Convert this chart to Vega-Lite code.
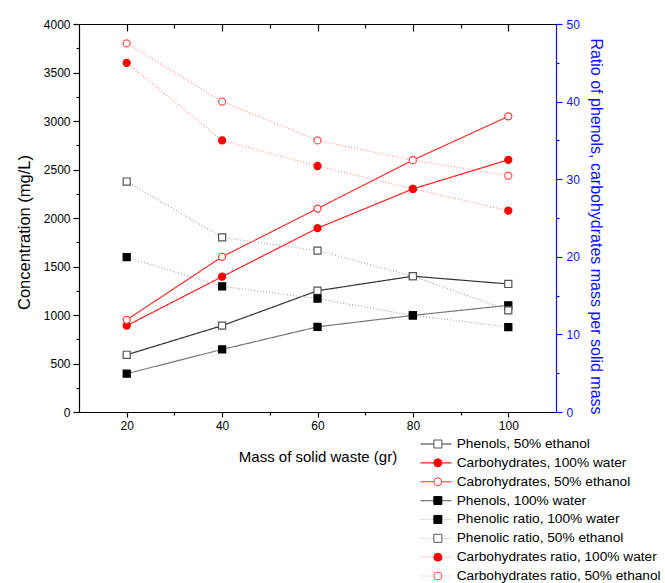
{
  "$schema": "https://vega.github.io/schema/vega-lite/v6.json",
  "width": 477,
  "height": 388,
  "autosize": {"type": "none"},
  "padding": {"left": 79, "top": 24, "right": 109, "bottom": 171},
  "config": {
    "font": "Liberation Sans",
    "view": {"stroke": null},
    "axis": {
      "labelFont": "Liberation Sans", "titleFont": "Liberation Sans", "grid": false,
      "labelFontSize": 12, "titleFontSize": 16, "titleFontWeight": "normal",
      "labelColor": "black", "titleColor": "black", "domainColor": "black", "tickColor": "black",
      "domainWidth": 1.2, "tickWidth": 1.2, "labelOverlap": false, "labelFlush": false
    },
    "legend": {"labelFont": "Liberation Sans"}
  },
  "datasets": {
    "conc": [
      {"mass": 20, "value": 590, "series": "Phenols, 50% ethanol"},
      {"mass": 40, "value": 890, "series": "Phenols, 50% ethanol"},
      {"mass": 60, "value": 1250, "series": "Phenols, 50% ethanol"},
      {"mass": 80, "value": 1400, "series": "Phenols, 50% ethanol"},
      {"mass": 100, "value": 1320, "series": "Phenols, 50% ethanol"},
      {"mass": 20, "value": 890, "series": "Carbohydrates, 100% water"},
      {"mass": 40, "value": 1395, "series": "Carbohydrates, 100% water"},
      {"mass": 60, "value": 1895, "series": "Carbohydrates, 100% water"},
      {"mass": 80, "value": 2300, "series": "Carbohydrates, 100% water"},
      {"mass": 100, "value": 2600, "series": "Carbohydrates, 100% water"},
      {"mass": 20, "value": 950, "series": "Cabrohydrates, 50% ethanol"},
      {"mass": 40, "value": 1600, "series": "Cabrohydrates, 50% ethanol"},
      {"mass": 60, "value": 2097, "series": "Cabrohydrates, 50% ethanol"},
      {"mass": 80, "value": 2597, "series": "Cabrohydrates, 50% ethanol"},
      {"mass": 100, "value": 3048, "series": "Cabrohydrates, 50% ethanol"},
      {"mass": 20, "value": 395, "series": "Phenols, 100% water"},
      {"mass": 40, "value": 645, "series": "Phenols, 100% water"},
      {"mass": 60, "value": 878, "series": "Phenols, 100% water"},
      {"mass": 80, "value": 996, "series": "Phenols, 100% water"},
      {"mass": 100, "value": 1100, "series": "Phenols, 100% water"}
    ],
    "ratio": [
      {"mass": 20, "value": 19.95, "series": "Phenolic ratio, 100% water"},
      {"mass": 40, "value": 16.2, "series": "Phenolic ratio, 100% water"},
      {"mass": 60, "value": 14.6, "series": "Phenolic ratio, 100% water"},
      {"mass": 80, "value": 12.45, "series": "Phenolic ratio, 100% water"},
      {"mass": 100, "value": 10.95, "series": "Phenolic ratio, 100% water"},
      {"mass": 20, "value": 29.7, "series": "Phenolic ratio, 50% ethanol"},
      {"mass": 40, "value": 22.5, "series": "Phenolic ratio, 50% ethanol"},
      {"mass": 60, "value": 20.8, "series": "Phenolic ratio, 50% ethanol"},
      {"mass": 80, "value": 17.5, "series": "Phenolic ratio, 50% ethanol"},
      {"mass": 100, "value": 13.1, "series": "Phenolic ratio, 50% ethanol"},
      {"mass": 20, "value": 45, "series": "Carbohydrates ratio, 100% water"},
      {"mass": 40, "value": 35, "series": "Carbohydrates ratio, 100% water"},
      {"mass": 60, "value": 31.7, "series": "Carbohydrates ratio, 100% water"},
      {"mass": 80, "value": 28.75, "series": "Carbohydrates ratio, 100% water"},
      {"mass": 100, "value": 25.95, "series": "Carbohydrates ratio, 100% water"},
      {"mass": 20, "value": 47.5, "series": "Carbohydrates ratio, 50% ethanol"},
      {"mass": 40, "value": 40, "series": "Carbohydrates ratio, 50% ethanol"},
      {"mass": 60, "value": 35, "series": "Carbohydrates ratio, 50% ethanol"},
      {"mass": 80, "value": 32.45, "series": "Carbohydrates ratio, 50% ethanol"},
      {"mass": 100, "value": 30.45, "series": "Carbohydrates ratio, 50% ethanol"}
    ]
  },
  "layer": [
    {
      "data": {"name": "conc"},
      "mark": {"type": "line", "strokeWidth": 1.2},
      "encoding": {
        "x": {"field": "mass", "type": "quantitative", "scale": {"domain": [10, 110], "nice": false, "zero": false},
          "axis": {"orient": "bottom", "title": "Mass of solid waste (gr)", "titleFontSize": 15,
            "values": [20, 30, 40, 50, 60, 70, 80, 90, 100],
            "labelExpr": "datum.value % 20 === 0 ? datum.label : ''",
            "tickSize": {"condition": {"test": "datum.value % 20 === 0", "value": 5}, "value": 3},
            "labelPadding": 3, "titlePadding": 18}},
        "y": {"field": "value", "type": "quantitative", "scale": {"domain": [0, 4000], "nice": false},
          "axis": {"orient": "left", "title": "Concentration (mg/L)", "format": "d", "titleY": 208, "titleFontSize": 16.5,
            "values": [0, 250, 500, 750, 1000, 1250, 1500, 1750, 2000, 2250, 2500, 2750, 3000, 3250, 3500, 3750, 4000],
            "labelExpr": "datum.value % 500 === 0 ? datum.label : ''",
            "tickSize": {"condition": {"test": "datum.value % 500 === 0", "value": 6}, "value": 3},
            "labelPadding": 3, "titlePadding": 11}},
        "stroke": {"field": "series", "type": "nominal",
          "scale": {"domain": ["Phenols, 50% ethanol", "Carbohydrates, 100% water", "Cabrohydrates, 50% ethanol", "Phenols, 100% water", "Phenolic ratio, 100% water", "Phenolic ratio, 50% ethanol", "Carbohydrates ratio, 100% water", "Carbohydrates ratio, 50% ethanol", "_"],
            "range": ["#333333", "#ff2020", "#ff3030", "#777777", "#a0a0a0", "#a0a0a0", "#ff8c8c", "#ff8c8c", "#000000"]},
          "legend": {"orient": "none", "legendX": 340.5, "legendY": 413, "title": null, "padding": 0,
            "values": ["Phenols, 50% ethanol", "Carbohydrates, 100% water", "Cabrohydrates, 50% ethanol", "Phenols, 100% water", "Phenolic ratio, 100% water", "Phenolic ratio, 50% ethanol", "Carbohydrates ratio, 100% water", "Carbohydrates ratio, 50% ethanol"],
            "symbolType": "stroke", "symbolSize": 961, "symbolStrokeWidth": 1.1, "clipHeight": 14,
            "labelFontSize": 13.7, "labelExpr": "''", "labelOpacity": 0, "labelOffset": 12, "rowPadding": 4.86, "labelLimit": 400}},
        "strokeDash": {"field": "series", "type": "nominal",
          "scale": {"domain": ["Phenols, 50% ethanol", "Carbohydrates, 100% water", "Cabrohydrates, 50% ethanol", "Phenols, 100% water", "Phenolic ratio, 100% water", "Phenolic ratio, 50% ethanol", "Carbohydrates ratio, 100% water", "Carbohydrates ratio, 50% ethanol", "_"],
            "range": [[1, 0], [1, 0], [1, 0], [1, 0], [1, 2], [1, 2], [1, 2], [1, 2], [1, 0]]}}
      }
    },
    {
      "data": {"name": "ratio"},
      "mark": {"type": "line", "strokeWidth": 1.1},
      "encoding": {
        "x": {"field": "mass", "type": "quantitative", "scale": {"domain": [10, 110], "nice": false, "zero": false},
          "axis": {"orient": "top", "title": null, "labels": false,
            "values": [20, 30, 40, 50, 60, 70, 80, 90, 100],
            "tickSize": {"condition": {"test": "datum.value % 20 === 0", "value": -7}, "value": -4}}},
        "y": {"field": "value", "type": "quantitative", "scale": {"domain": [0, 50], "nice": false},
          "axis": {"orient": "right", "title": "Ratio of phenols, carbohydrates mass per solid mass",
            "values": [0, 5, 10, 15, 20, 25, 30, 35, 40, 45, 50],
            "labelExpr": "datum.value % 10 === 0 ? datum.label : ''",
            "tickSize": {"condition": {"test": "datum.value % 10 === 0", "value": 6}, "value": 3},
            "labelPadding": 4, "titlePadding": 8, "titleFontSize": 16, "titleY": 202,
            "labelColor": "#1010ff", "titleColor": "#1010ff", "domainColor": "#1010ff", "tickColor": "#1010ff"}},
        "stroke": {"field": "series", "type": "nominal"},
        "strokeDash": {"field": "series", "type": "nominal"}
      }
    },
    {
      "data": {"name": "conc"},
      "mark": {"type": "point", "filled": false, "size": 50, "strokeWidth": 1.2, "opacity": 1},
      "encoding": {
        "x": {"field": "mass", "type": "quantitative", "scale": {"domain": [10, 110], "nice": false, "zero": false}, "axis": null},
        "y": {"field": "value", "type": "quantitative", "scale": {"domain": [0, 4000], "nice": false}, "axis": null},
        "color": {"field": "series", "type": "nominal",
          "scale": {"domain": ["Phenols, 50% ethanol", "Carbohydrates, 100% water", "Cabrohydrates, 50% ethanol", "Phenols, 100% water", "Phenolic ratio, 100% water", "Phenolic ratio, 50% ethanol", "Carbohydrates ratio, 100% water", "Carbohydrates ratio, 50% ethanol"],
            "range": ["#555555", "#ff0000", "#ff3a3a", "#000000", "#000000", "#555555", "#ff0000", "#ff5050"]},
          "legend": {"orient": "none", "legendX": 352, "legendY": 413, "title": null, "padding": 0,
            "symbolSize": 64, "symbolStrokeWidth": 1, "clipHeight": 14, "labelFontSize": 13.7, "labelColor": "black",
            "labelOffset": 12, "rowPadding": 4.86, "labelLimit": 400, "symbolOpacity": 1}},
        "fill": {"field": "series", "type": "nominal",
          "scale": {"domain": ["Phenols, 50% ethanol", "Carbohydrates, 100% water", "Cabrohydrates, 50% ethanol", "Phenols, 100% water", "Phenolic ratio, 100% water", "Phenolic ratio, 50% ethanol", "Carbohydrates ratio, 100% water", "Carbohydrates ratio, 50% ethanol"],
            "range": ["#ffffff", "#ff0000", "#ffffff", "#000000", "#000000", "#ffffff", "#ff0000", "#ffffff"]}},
        "shape": {"field": "series", "type": "nominal",
          "scale": {"domain": ["Phenols, 50% ethanol", "Carbohydrates, 100% water", "Cabrohydrates, 50% ethanol", "Phenols, 100% water", "Phenolic ratio, 100% water", "Phenolic ratio, 50% ethanol", "Carbohydrates ratio, 100% water", "Carbohydrates ratio, 50% ethanol"],
            "range": ["square", "circle", "circle", "square", "square", "square", "circle", "circle"]}}
      }
    },
    {
      "data": {"name": "ratio"},
      "mark": {"type": "point", "filled": false, "size": 50, "strokeWidth": 1.2, "opacity": 1},
      "encoding": {
        "x": {"field": "mass", "type": "quantitative", "scale": {"domain": [10, 110], "nice": false, "zero": false}, "axis": null},
        "y": {"field": "value", "type": "quantitative", "scale": {"domain": [0, 50], "nice": false}, "axis": null},
        "color": {"field": "series", "type": "nominal"},
        "fill": {"field": "series", "type": "nominal"},
        "shape": {"field": "series", "type": "nominal"}
      }
    }
  ],
  "resolve": {"scale": {"x": "independent", "y": "independent"}}
}
